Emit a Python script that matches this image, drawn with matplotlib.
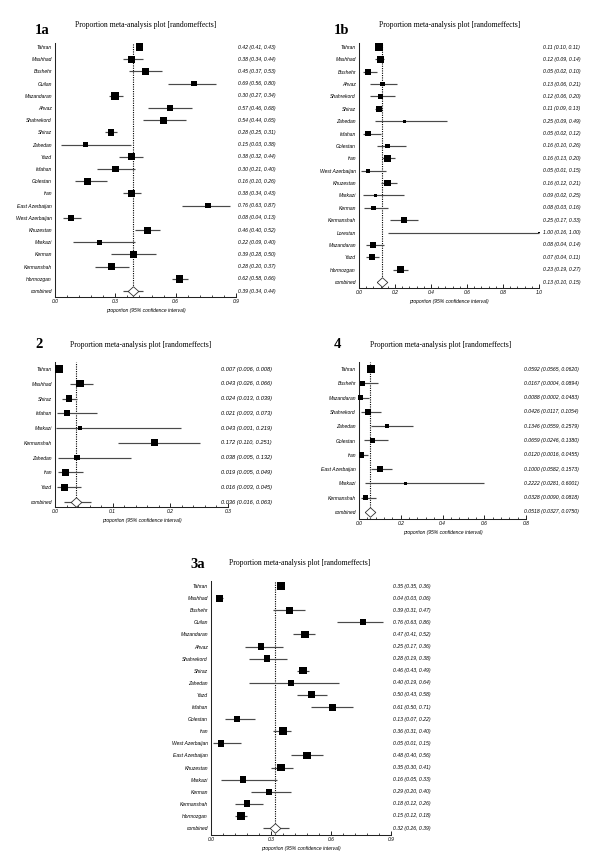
#!/usr/bin/env python

import numpy as np
import matplotlib
matplotlib.use('Agg')
import matplotlib.pyplot as plt
from matplotlib.ticker import MultipleLocator, FormatStrFormatter

plt.rcParams['font.family'] = ['Liberation Sans', 'DejaVu Sans']

# ---- data ----
names_1a = ['Tahran', 'Mashhad', 'Bushehr', 'Guilan', 'Mazandaran', 'Ahvaz', 'Shahrekord',
            'Shiraz', 'Zahedan', 'Yazd', 'Isfahan', 'Golestan', 'Iran', 'East Azerbaijan',
            'West Azerbaijan', 'Khuzestan', 'Markazi', 'Kerman', 'Kermanshah', 'Hormozgan']
est_1a = [0.42, 0.38, 0.45, 0.69, 0.30, 0.57, 0.54, 0.28, 0.15, 0.38, 0.30, 0.16, 0.38, 0.76,
          0.08, 0.46, 0.22, 0.39, 0.28, 0.62]
lo_1a = [0.41, 0.34, 0.37, 0.56, 0.27, 0.46, 0.44, 0.25, 0.03, 0.32, 0.21, 0.10, 0.34, 0.63,
         0.04, 0.40, 0.09, 0.28, 0.20, 0.58]
hi_1a = [0.43, 0.44, 0.53, 0.80, 0.34, 0.68, 0.65, 0.31, 0.38, 0.44, 0.40, 0.26, 0.43, 0.87,
         0.13, 0.52, 0.40, 0.50, 0.37, 0.66]
wt_1a = [6.7, 6.0, 6.0, 5.0, 7.3, 5.3, 6.0, 5.7, 4.3, 6.0, 5.7, 6.0, 6.7, 5.0, 5.7, 6.3, 4.3,
         6.3, 6.0, 6.7]
comb_1a = (0.39, 0.34, 0.44)

names_1b = ['Tahran', 'Mashhad', 'Bushehr', 'Ahvaz', 'Shahrekord', 'Shiraz', 'Zahedan',
            'Isfahan', 'Golestan', 'Iran', 'West Azerbaijan', 'Khuzestan', 'Markazi', 'Kerman',
            'Kermanshah', 'Lorestan', 'Mazandaran', 'Yazd', 'Hormozgan']
est_1b = [0.11, 0.12, 0.05, 0.13, 0.12, 0.11, 0.25, 0.05, 0.16, 0.16, 0.05, 0.16, 0.09, 0.08,
          0.25, 1.00, 0.08, 0.07, 0.23]
lo_1b = [0.10, 0.09, 0.02, 0.06, 0.06, 0.09, 0.09, 0.02, 0.10, 0.13, 0.01, 0.12, 0.02, 0.03,
         0.17, 0.16, 0.04, 0.04, 0.19]
hi_1b = [0.11, 0.14, 0.10, 0.21, 0.20, 0.13, 0.49, 0.12, 0.26, 0.20, 0.15, 0.21, 0.25, 0.16,
         0.33, 1.00, 0.14, 0.11, 0.27]
wt_1b = [6.7, 6.0, 5.0, 4.3, 4.7, 5.7, 2.7, 4.7, 4.3, 6.0, 3.3, 6.0, 3.0, 4.0, 5.7, 1.0, 5.3,
         5.3, 6.3]
comb_1b = (0.13, 0.10, 0.15)

names_2 = ['Tahran', 'Mashhad', 'Shiraz', 'Isfahan', 'Markazi', 'Kermanshah', 'Zahedan',
           'Iran', 'Yazd']
est_2 = [0.007, 0.043, 0.024, 0.021, 0.043, 0.172, 0.038, 0.019, 0.016]
lo_2 = [0.006, 0.026, 0.013, 0.003, 0.001, 0.110, 0.005, 0.005, 0.003]
hi_2 = [0.008, 0.066, 0.039, 0.073, 0.219, 0.251, 0.132, 0.049, 0.045]
wt_2 = [7.3, 6.7, 6.0, 5.7, 3.7, 6.3, 5.0, 6.3, 6.3]
comb_2 = (0.036, 0.016, 0.063)

names_4 = ['Tahran', 'Bushehr', 'Mazandaran', 'Shahrekord', 'Zahedan', 'Golestan', 'Iran',
           'East Azerbaijan', 'Markazi', 'Kermanshah']
est_4 = [0.0592, 0.0167, 0.0088, 0.0426, 0.1346, 0.0659, 0.0120, 0.1000, 0.2222, 0.0328]
lo_4 = [0.0565, 0.0004, 0.0002, 0.0117, 0.0559, 0.0246, 0.0016, 0.0582, 0.0281, 0.0090]
hi_4 = [0.0620, 0.0894, 0.0483, 0.1054, 0.2579, 0.1380, 0.0455, 0.1573, 0.6001, 0.0818]
wt_4 = [7.3, 4.0, 4.7, 5.0, 4.0, 4.7, 5.0, 5.7, 2.3, 4.7]
comb_4 = (0.0518, 0.0327, 0.0750)

names_3a = ['Tahran', 'Mashhad', 'Bushehr', 'Guilan', 'Mazandaran', 'Ahvaz', 'Shahrekord',
            'Shiraz', 'Zahedan', 'Yazd', 'Isfahan', 'Golestan', 'Iran', 'West Azerbaijan',
            'East Azerbaijan', 'Khuzestan', 'Markazi', 'Kerman', 'Kermanshah', 'Hormozgan']
est_3a = [0.35, 0.04, 0.39, 0.76, 0.47, 0.25, 0.28, 0.46, 0.40, 0.50, 0.61, 0.13, 0.36, 0.05,
          0.48, 0.35, 0.16, 0.29, 0.18, 0.15]
lo_3a = [0.35, 0.03, 0.31, 0.63, 0.41, 0.17, 0.19, 0.43, 0.19, 0.43, 0.50, 0.07, 0.31, 0.01,
         0.40, 0.30, 0.05, 0.20, 0.12, 0.12]
hi_3a = [0.36, 0.06, 0.47, 0.86, 0.52, 0.36, 0.38, 0.49, 0.64, 0.58, 0.71, 0.22, 0.40, 0.15,
         0.56, 0.41, 0.33, 0.40, 0.26, 0.18]
wt_3a = [6.7, 6.3, 6.3, 5.7, 6.7, 6.0, 5.7, 6.7, 5.0, 6.3, 6.3, 6.0, 7.0, 6.0, 6.7, 6.7, 5.7,
         5.7, 6.0, 6.7]
comb_3a = (0.32, 0.26, 0.39)

TITLE = 'Proportion meta-analysis plot [randomeffects]'
XLABEL = 'proportion (95% confidence interval)'

W, H = 600, 863
FS = 3.6


def forest(fig, names, est, lo, hi, wt, comb, xmax, major, nd,
           x0, x1, ytop, ybot, row0, rowN, val_x, val_fs=3.7):
    n = len(names) + 1
    ax = fig.add_axes([x0 / W, 1 - ybot / H, (x1 - x0) / W, (ybot - ytop) / H])
    sp = (rowN - row0) / (n - 1)
    ax.set_ylim((n - 1) + (ybot - rowN) / sp, -(row0 - ytop) / sp)
    ax.set_xlim(0, xmax)
    y = np.arange(len(names))

    ax.axvline(comb[0], color='black', ls=(0, (1, 1.1)), lw=0.8, zorder=1)
    ax.hlines(y, lo, hi, color='#4a4a4a', lw=0.85, zorder=2, clip_on=False)
    ax.scatter(est, y, s=(np.array(wt) * 0.8) ** 2, marker='s', color='black',
               linewidths=0, zorder=3, clip_on=False)
    ax.hlines(n - 1, comb[1], comb[2], color='#4a4a4a', lw=0.85, zorder=2)
    dia = [(-1, 0), (0, 0.9), (1, 0), (0, -0.9), (-1, 0)]
    ax.plot(comb[0], n - 1, marker=dia, ms=7.6, mfc='white', mec='#333333', mew=0.6, zorder=4)

    ax.set_yticks(range(n))
    ax.set_yticklabels(list(names) + ['combined'], fontsize=FS, style='italic')
    ax.tick_params(axis='y', length=0, pad=2.2)

    ax.xaxis.set_major_locator(MultipleLocator(major))
    ax.xaxis.set_minor_locator(MultipleLocator(major / 5))
    ax.xaxis.set_major_formatter(FormatStrFormatter('%.1f'))
    ax.tick_params(axis='x', which='major', direction='in', length=3, width=0.6,
                   labelsize=FS, pad=1.5)
    ax.tick_params(axis='x', which='minor', direction='in', length=1.8, width=0.5)
    for lab in ax.get_xticklabels():
        lab.set_style('italic')
    ax.set_xlabel(XLABEL, fontsize=FS, style='italic', labelpad=2.5)

    for s in ['top', 'right']:
        ax.spines[s].set_visible(False)
    for s in ['left', 'bottom']:
        ax.spines[s].set_linewidth(0.75)
        ax.spines[s].set_color('#222222')

    fx = (val_x - x0) / (x1 - x0)
    tr = ax.get_yaxis_transform()
    rows = list(zip(est, lo, hi)) + [comb]
    for i, (e, l, h) in enumerate(rows):
        ax.text(fx, i, f'{e:.{nd}f} ({l:.{nd}f}, {h:.{nd}f})', transform=tr,
                fontsize=val_fs, style='italic', va='center', ha='left', clip_on=False)
    return ax


def heading(fig, tag, tag_x, tag_y, title_x, title_y):
    fig.text(tag_x / W, 1 - tag_y / H, tag, fontsize=10.5, fontweight='bold',
             family='Liberation Serif', ha='left', va='center')
    fig.text(title_x / W, 1 - title_y / H, TITLE, fontsize=5.5,
             family='Liberation Serif', ha='center', va='center')


def main():
    fig = plt.figure(figsize=(W / 100, H / 100), dpi=100)

    forest(fig, names_1a, est_1a, lo_1a, hi_1a, wt_1a, comb_1a, 0.9, 0.3, 2,
           55, 236, 43, 297, 47, 291, 238)
    heading(fig, '1a', 35, 30, 146, 25)

    forest(fig, names_1b, est_1b, lo_1b, hi_1b, wt_1b, comb_1b, 1.0, 0.2, 2,
           359, 539, 43, 288, 47, 282, 543)
    heading(fig, '1b', 334, 30, 450, 25)

    forest(fig, names_2, est_2, lo_2, hi_2, wt_2, comb_2, 0.3, 0.1, 3,
           55, 228, 362, 507, 369, 502, 221, val_fs=4.1)
    heading(fig, '2', 35, 345, 141, 345)

    forest(fig, names_4, est_4, lo_4, hi_4, wt_4, comb_4, 0.8, 0.2, 4,
           359, 526, 362, 519, 369, 512, 524)
    heading(fig, '4', 334, 345, 441, 345)

    forest(fig, names_3a, est_3a, lo_3a, hi_3a, wt_3a, comb_3a, 0.9, 0.3, 2,
           211, 391, 581, 835, 586, 828, 393)
    heading(fig, '3a', 190, 565, 300, 563)

    fig.savefig('out.png', dpi=100, facecolor='white')


if __name__ == '__main__':
    main()
